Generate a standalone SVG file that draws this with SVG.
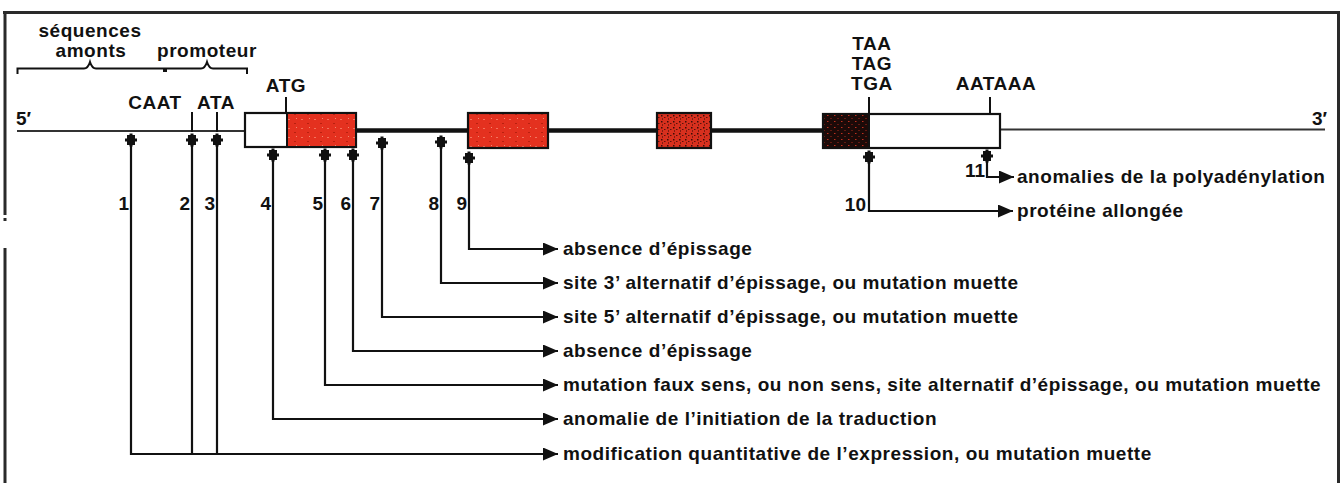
<svg xmlns="http://www.w3.org/2000/svg" xmlns:xlink="http://www.w3.org/1999/xlink" width="1343" height="483" viewBox="0 0 1343 483">
<style>
text{font-family:"Liberation Sans",Arial,sans-serif;font-weight:bold;font-size:19px;fill:#111;letter-spacing:0.55px}
.num{letter-spacing:0;text-anchor:end}
.mid{text-anchor:middle}
.frame{stroke:#2a2a2a;stroke-width:3;fill:none}
.thin{stroke:#333;stroke-width:2;fill:none}
.intron{stroke:#111;stroke-width:4.5;fill:none}
.box{stroke:#111;stroke-width:2.2}
.conn{stroke:#111;stroke-width:2.2;fill:none}
.arr{stroke:#111;stroke-width:2.2;fill:none;marker-end:url(#ah)}
.tick{stroke:#111;stroke-width:2;fill:none}
</style>
<defs>
<marker id="ah" markerUnits="userSpaceOnUse" markerWidth="16" markerHeight="13" refX="15" refY="6.5" orient="auto">
<path d="M0,0 L15,6.5 L0,13 Z" fill="#111"/>
</marker>
<g id="mk">
<rect x="-4" y="-5" width="8" height="10" fill="#111"/>
<rect x="-6" y="-1.5" width="12" height="3" fill="#111"/>
<rect x="-1.5" y="-6.5" width="3" height="13" fill="#111"/>
</g>
<pattern id="pRed" width="13" height="9" patternUnits="userSpaceOnUse">
<rect width="13" height="9" fill="#e4311f"/>
<rect x="2" y="2" width="2" height="1" fill="#f4725c"/>
<rect x="8" y="6" width="2" height="1" fill="#b9200f"/>
<rect x="10" y="1" width="1" height="1" fill="#f08a70"/>
</pattern>
<pattern id="pDot" width="6" height="6" patternUnits="userSpaceOnUse">
<rect width="6" height="6" fill="#d8301e"/>
<rect x="1" y="1" width="1.5" height="1.5" fill="#3a0d08"/>
<rect x="4" y="3" width="1.5" height="1" fill="#5a120a"/>
<rect x="2" y="4.5" width="1" height="1" fill="#2a0805"/>
</pattern>
<pattern id="pBlk" width="7" height="6" patternUnits="userSpaceOnUse">
<rect width="7" height="6" fill="#1c0a08"/>
<rect x="1" y="1" width="1.5" height="1" fill="#c0301e"/>
<rect x="4.5" y="4" width="1" height="1" fill="#a8281a"/>
</pattern>
</defs>

<g id="frame">
<path class="frame" d="M3,12.5 H1338.5 V483"/>
<path class="frame" d="M5,12 V215 M5,248 V483"/>
<rect x="3.5" y="218" width="3" height="3" fill="#2a2a2a"/>
</g>

<g id="region-labels">
<text class="mid" x="90" y="37">séquences</text>
<text class="mid" x="91" y="57">amonts</text>
<text class="mid" x="207" y="57">promoteur</text>
<path class="tick" d="M17.5,74 V68.5 H84 Q88,68.5 90,62 Q92,68.5 96,68.5 H164 V72"/>
<path class="tick" d="M166,72 V68.5 H201 Q205,68.5 207,62 Q209,68.5 213,68.5 H247 V74"/>
</g>

<g id="strand">
<text x="16" y="125" style="letter-spacing:0">5′</text>
<text x="1327" y="125" style="letter-spacing:0;text-anchor:end">3′</text>
<line class="thin" x1="17" y1="131" x2="245" y2="131"/>
<line class="intron" x1="356" y1="130.5" x2="468" y2="130.5"/>
<line class="intron" x1="548" y1="130.5" x2="657" y2="130.5"/>
<line class="intron" x1="711" y1="130.5" x2="823" y2="130.5"/>
<line class="thin" x1="1000" y1="129.5" x2="1325" y2="129.5"/>
</g>

<g id="exon1">
<rect class="box" x="245" y="113" width="111" height="34" fill="#fff"/>
<rect x="287" y="114" width="68" height="32" fill="url(#pRed)"/>
<line class="tick" x1="287" y1="113" x2="287" y2="147"/>
<text class="mid" x="286" y="92">ATG</text>
<line class="tick" x1="286" y1="97" x2="286" y2="113"/>
</g>

<g id="exon2">
<rect class="box" x="468" y="113" width="80" height="35" fill="url(#pRed)"/>
</g>

<g id="exon3">
<rect class="box" x="657" y="113" width="54" height="35" fill="url(#pDot)"/>
</g>

<g id="exon4">
<rect class="box" x="823" y="114" width="177" height="34" fill="#fff"/>
<rect x="824" y="115" width="45" height="32" fill="url(#pBlk)"/>
<line class="tick" x1="869" y1="97" x2="869" y2="148"/>
<line class="tick" x1="990" y1="97" x2="990" y2="114"/>
<text class="mid" x="872" y="50">TAA</text>
<text class="mid" x="872" y="70">TAG</text>
<text class="mid" x="872" y="90">TGA</text>
<text class="mid" x="996" y="90">AATAAA</text>
</g>

<g id="promoter-boxes">
<text class="mid" x="155" y="109">CAAT</text>
<text class="mid" x="216" y="109">ATA</text>
<line class="tick" x1="192" y1="112" x2="192" y2="132"/>
<line class="tick" x1="217" y1="112" x2="217" y2="132"/>
</g>

<g id="connectors">
<path class="conn" d="M192,140 V454"/>
<path class="conn" d="M217,140 V454"/>
<path class="arr" d="M131,140 V454 H558"/>
<path class="arr" d="M273,155 V419 H558"/>
<path class="arr" d="M325,155 V385 H558"/>
<path class="arr" d="M353,155 V351 H558"/>
<path class="arr" d="M382,143 V317 H558"/>
<path class="arr" d="M441,142 V283 H558"/>
<path class="arr" d="M469,158 V249 H558"/>
<path class="arr" d="M869,157 V211 H1013"/>
<path class="arr" d="M987,156 V177 H1014"/>
</g>

<g id="markers">
<use xlink:href="#mk" x="131" y="140"/>
<use xlink:href="#mk" x="192" y="140"/>
<use xlink:href="#mk" x="217" y="140"/>
<use xlink:href="#mk" x="273" y="155"/>
<use xlink:href="#mk" x="325" y="155"/>
<use xlink:href="#mk" x="353" y="155"/>
<use xlink:href="#mk" x="382" y="143"/>
<use xlink:href="#mk" x="441" y="142"/>
<use xlink:href="#mk" x="469" y="158"/>
<use xlink:href="#mk" x="869" y="157"/>
<use xlink:href="#mk" x="987" y="156"/>
</g>

<g id="numbers">
<text class="num" x="129" y="210">1</text>
<text class="num" x="190" y="210">2</text>
<text class="num" x="215" y="210">3</text>
<text class="num" x="271" y="210">4</text>
<text class="num" x="323" y="210">5</text>
<text class="num" x="351" y="210">6</text>
<text class="num" x="380" y="210">7</text>
<text class="num" x="439" y="210">8</text>
<text class="num" x="467" y="210">9</text>
<text class="num" x="866" y="211">10</text>
<text class="num" x="985" y="177">11</text>
</g>

<g id="effects">
<text x="563" y="255">absence d’épissage</text>
<text x="563" y="289">site 3’ alternatif d’épissage, ou mutation muette</text>
<text x="563" y="323">site 5’ alternatif d’épissage, ou mutation muette</text>
<text x="563" y="357">absence d’épissage</text>
<text x="563" y="391">mutation faux sens, ou non sens, site alternatif d’épissage, ou mutation muette</text>
<text x="563" y="425">anomalie de l’initiation de la traduction</text>
<text x="563" y="460">modification quantitative de l’expression, ou mutation muette</text>
<text x="1017" y="183">anomalies de la polyadénylation</text>
<text x="1017" y="217">protéine allongée</text>
</g>
</svg>
